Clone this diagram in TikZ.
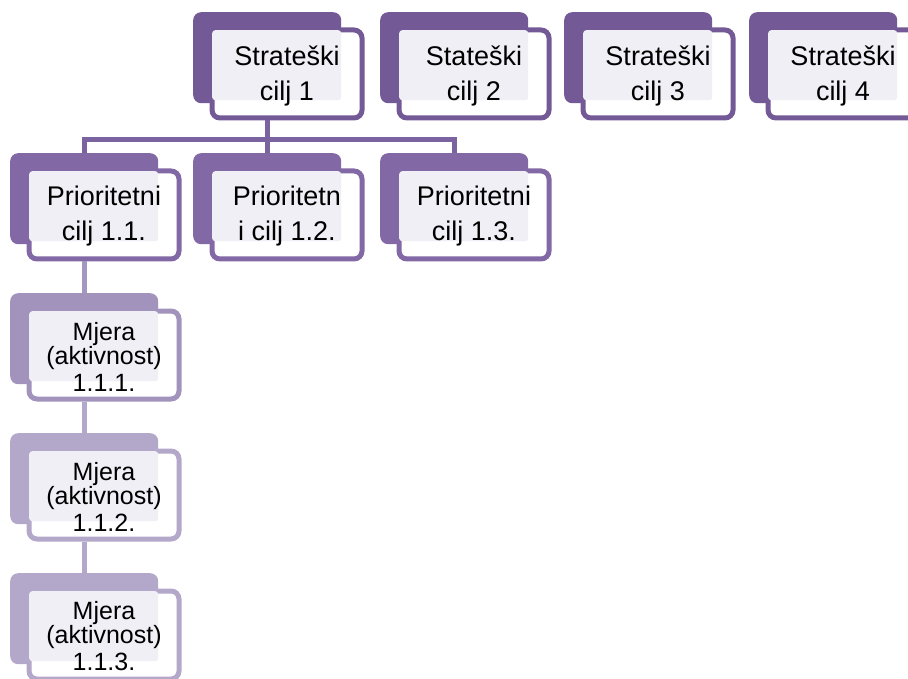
\documentclass[tikz,border=0pt]{standalone}
\usepackage{fontspec}
\setmainfont{Liberation Sans}
\usepackage{tikz}
\usetikzlibrary{positioning,calc}
\definecolor{strat}{HTML}{735A96}
\definecolor{prio}{HTML}{8268A4}
\definecolor{mjA}{HTML}{A193BB}
\definecolor{mjB}{HTML}{B3A8C9}
\definecolor{panecol}{HTML}{F1EFF6}
\definecolor{linkA}{HTML}{7B62A0}
\definecolor{linkB}{HTML}{A598C0}
\newcommand{\ciljbox}[6]{%
  \node[backbox, fill=#4] (#1b) at (#2,#3) {};
  \node[frontbox, draw=#4, below right=15.5pt and 16.5pt of #1b.north west] (#1f) {};
  \node[panebox, below right=2.5pt and 2.5pt of #1f.north west] (#1t) {};
  \node[#5] (#1l) at ([yshift=-1.5pt]#1f.center) {#6};
}

\begin{document}
\begin{tikzpicture}[x=1pt, y=-1pt,
  backbox/.style={rounded corners=8pt, minimum width=148pt, minimum height=91pt, anchor=north west, inner sep=0pt},
  frontbox/.style={rounded corners=8pt, fill=white, line width=5pt, minimum width=150pt, minimum height=88pt, inner sep=0pt},
  panebox/.style={fill=panecol, rounded corners=3pt, minimum width=129pt, minimum height=70pt, inner sep=0pt},
  bigtxt/.style={font=\fontsize{27}{35}\selectfont, align=center, inner sep=0pt},
  mjtxt/.style={font=\fontsize{25}{24}\selectfont, align=center, inner sep=0pt},
  link/.style={line width=5pt}]
  \useasboundingbox (0,0) rectangle (908,679);
  \clip (0,0) rectangle (908,679);
  \ciljbox{s1}{193}{12}{strat}{bigtxt}{Strateški\\cilj 1}
  \ciljbox{s2}{380}{12}{strat}{bigtxt}{Stateški\\cilj 2}
  \ciljbox{s3}{564}{12}{strat}{bigtxt}{Strateški\\cilj 3}
  \ciljbox{s4}{749}{12}{strat}{bigtxt}{Strateški\\cilj 4}
  \ciljbox{p1}{10}{153}{prio}{bigtxt}{Prioritetni\\cilj 1.1.}
  \ciljbox{p2}{193}{153}{prio}{bigtxt}{Prioritetn\\i cilj 1.2.}
  \ciljbox{p3}{380}{153}{prio}{bigtxt}{Prioritetni\\cilj 1.3.}
  \ciljbox{m1}{10}{293}{mjA}{mjtxt}{Mjera\\(aktivnost)\\[3pt]1.1.1.}
  \ciljbox{m2}{10}{433}{mjB}{mjtxt}{Mjera\\(aktivnost)\\[3pt]1.1.2.}
  \ciljbox{m3}{10}{573}{mjB}{mjtxt}{Mjera\\(aktivnost)\\[3pt]1.1.3.}
  \draw[link, linkA] (s1b.south |- s1f.south) -- ++(0,19.5) -| (p1b.north);
  \draw[link, linkA] (s1b.south |- s1f.south) -- ++(0,19.5) -| (p3b.north);
  \draw[link, linkA] (s1b.south |- s1f.south) -- (p2b.north);
  \draw[link, linkB] (p1b.south |- p1f.south) -- (m1b.north);
  \draw[link, mjB] (m1b.south |- m1f.south) -- (m2b.north);
  \draw[link, mjB] (m2b.south |- m2f.south) -- (m3b.north);
\end{tikzpicture}
\end{document}
